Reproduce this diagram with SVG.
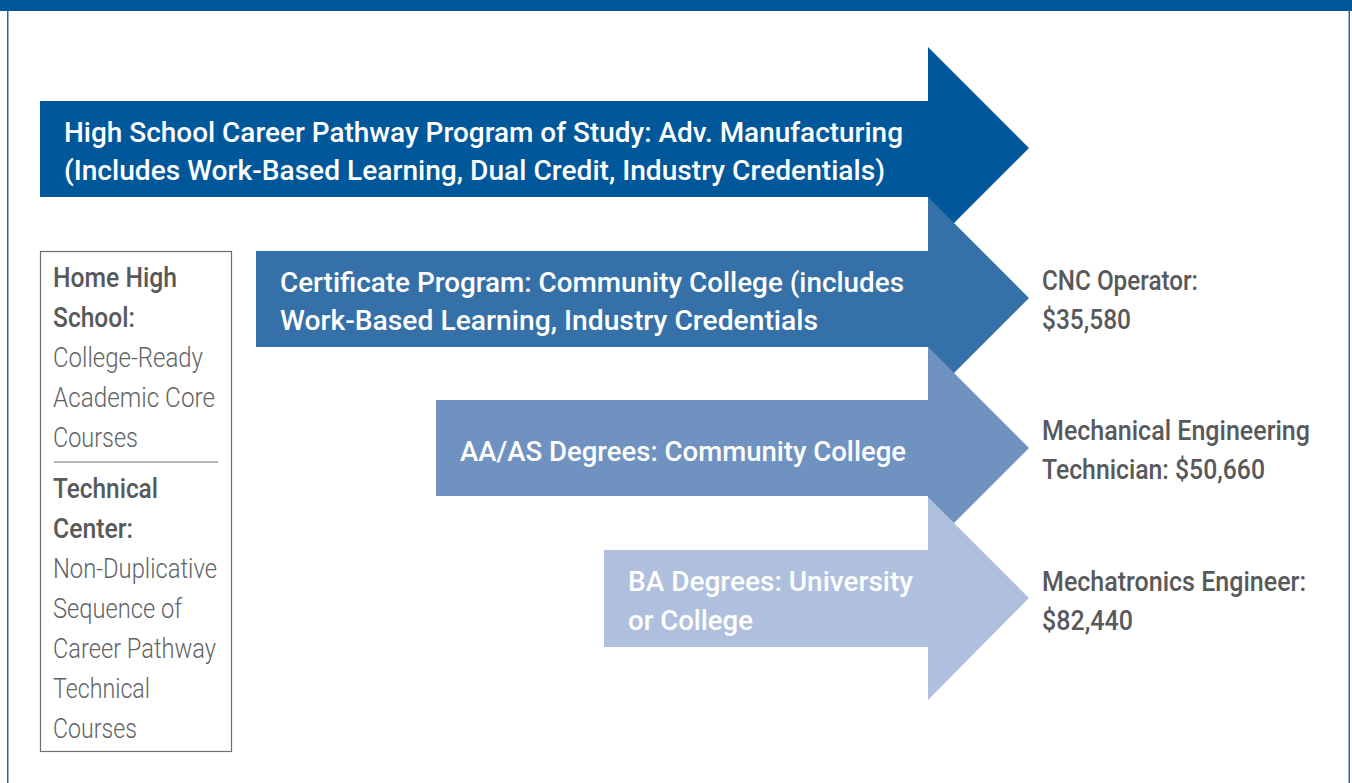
<svg xmlns="http://www.w3.org/2000/svg" width="1352" height="783" viewBox="0 0 1352 783">
<style>
.arr{font-family:Roboto,"Liberation Sans",sans-serif;font-size:28px;font-weight:500;fill:#ffffff}
.sal{font-family:Roboto,"Liberation Sans",sans-serif;font-size:27px;font-weight:500;fill:#58595b}
.bh{font-family:Roboto,"Liberation Sans",sans-serif;font-size:27px;font-weight:500;fill:#58595b}
.bl{font-family:Roboto,"Liberation Sans",sans-serif;font-size:27px;font-weight:300;fill:#626366}
</style>
<rect x="0" y="0" width="1352" height="783" fill="#ffffff"/>
<g id="frame">
<rect x="0" y="0" width="1352" height="11" fill="#00579a"/>
<rect x="7" y="10" width="1.5" height="773" fill="#2568a4"/>
<rect x="1348.5" y="10" width="1.5" height="773" fill="#2568a4"/>
</g>
<g id="arrow-highschool">
<polygon points="40,101 928,101 928,47 1029,148 928,249 928,197 40,197" fill="#00579a"/>
<text class="arr" x="64" y="142" textLength="839" lengthAdjust="spacingAndGlyphs">High School Career Pathway Program of Study: Adv. Manufacturing</text>
<text class="arr" x="64" y="180" textLength="821" lengthAdjust="spacingAndGlyphs">(Includes Work-Based Learning, Dual Credit, Industry Credentials)</text>
</g>
<g id="arrow-certificate">
<polygon points="256,251 928,251 928,197 1029,298 928,399 928,347 256,347" fill="#3570a8"/>
<text class="arr" x="280" y="292" textLength="624" lengthAdjust="spacingAndGlyphs">Certificate Program: Community College (includes</text>
<text class="arr" x="280" y="330" textLength="538" lengthAdjust="spacingAndGlyphs">Work-Based Learning, Industry Credentials</text>
</g>
<g id="arrow-aaas">
<polygon points="436,400 928,400 928,347 1029,448 928,549 928,496 436,496" fill="#7092c0"/>
<text class="arr" x="460" y="461" textLength="446" lengthAdjust="spacingAndGlyphs">AA/AS Degrees: Community College</text>
</g>
<g id="arrow-ba">
<polygon points="604,550 928,550 928,497 1029,598 928,700 928,647 604,647" fill="#afc0de"/>
<text class="arr" x="628" y="591" textLength="285" lengthAdjust="spacingAndGlyphs">BA Degrees: University</text>
<text class="arr" x="628" y="630" textLength="125" lengthAdjust="spacingAndGlyphs">or College</text>
</g>
<g id="salary-cnc">
<text class="sal" x="1042" y="290" textLength="156" lengthAdjust="spacingAndGlyphs">CNC Operator:</text>
<text class="sal" x="1042" y="329" textLength="89" lengthAdjust="spacingAndGlyphs">$35,580</text>
</g>
<g id="salary-mech">
<text class="sal" x="1042" y="440" textLength="268" lengthAdjust="spacingAndGlyphs">Mechanical Engineering</text>
<text class="sal" x="1042" y="479" textLength="223" lengthAdjust="spacingAndGlyphs">Technician: $50,660</text>
</g>
<g id="salary-mechatronics">
<text class="sal" x="1042" y="591" textLength="264" lengthAdjust="spacingAndGlyphs">Mechatronics Engineer:</text>
<text class="sal" x="1042" y="630" textLength="91" lengthAdjust="spacingAndGlyphs">$82,440</text>
</g>
<g id="side-box">
<rect x="40.5" y="251.5" width="191" height="500" fill="none" stroke="#6d6e70" stroke-width="1.2"/>
<line x1="54" y1="462" x2="218" y2="462" stroke="#6d6e70" stroke-width="1.2"/>
<text class="bh" x="53" y="287" textLength="124" lengthAdjust="spacingAndGlyphs">Home High</text>
<text class="bh" x="53" y="327" textLength="82" lengthAdjust="spacingAndGlyphs">School:</text>
<text class="bl" x="53" y="367" textLength="150" lengthAdjust="spacingAndGlyphs">College-Ready</text>
<text class="bl" x="53" y="407" textLength="162" lengthAdjust="spacingAndGlyphs">Academic Core</text>
<text class="bl" x="53" y="447" textLength="85" lengthAdjust="spacingAndGlyphs">Courses</text>
<text class="bh" x="53" y="498" textLength="105" lengthAdjust="spacingAndGlyphs">Technical</text>
<text class="bh" x="53" y="538" textLength="80" lengthAdjust="spacingAndGlyphs">Center:</text>
<text class="bl" x="53" y="578" textLength="164" lengthAdjust="spacingAndGlyphs">Non-Duplicative</text>
<text class="bl" x="53" y="618" textLength="129" lengthAdjust="spacingAndGlyphs">Sequence of</text>
<text class="bl" x="53" y="658" textLength="163" lengthAdjust="spacingAndGlyphs">Career Pathway</text>
<text class="bl" x="53" y="698" textLength="97" lengthAdjust="spacingAndGlyphs">Technical</text>
<text class="bl" x="53" y="738" textLength="84" lengthAdjust="spacingAndGlyphs">Courses</text>
</g>
</svg>
